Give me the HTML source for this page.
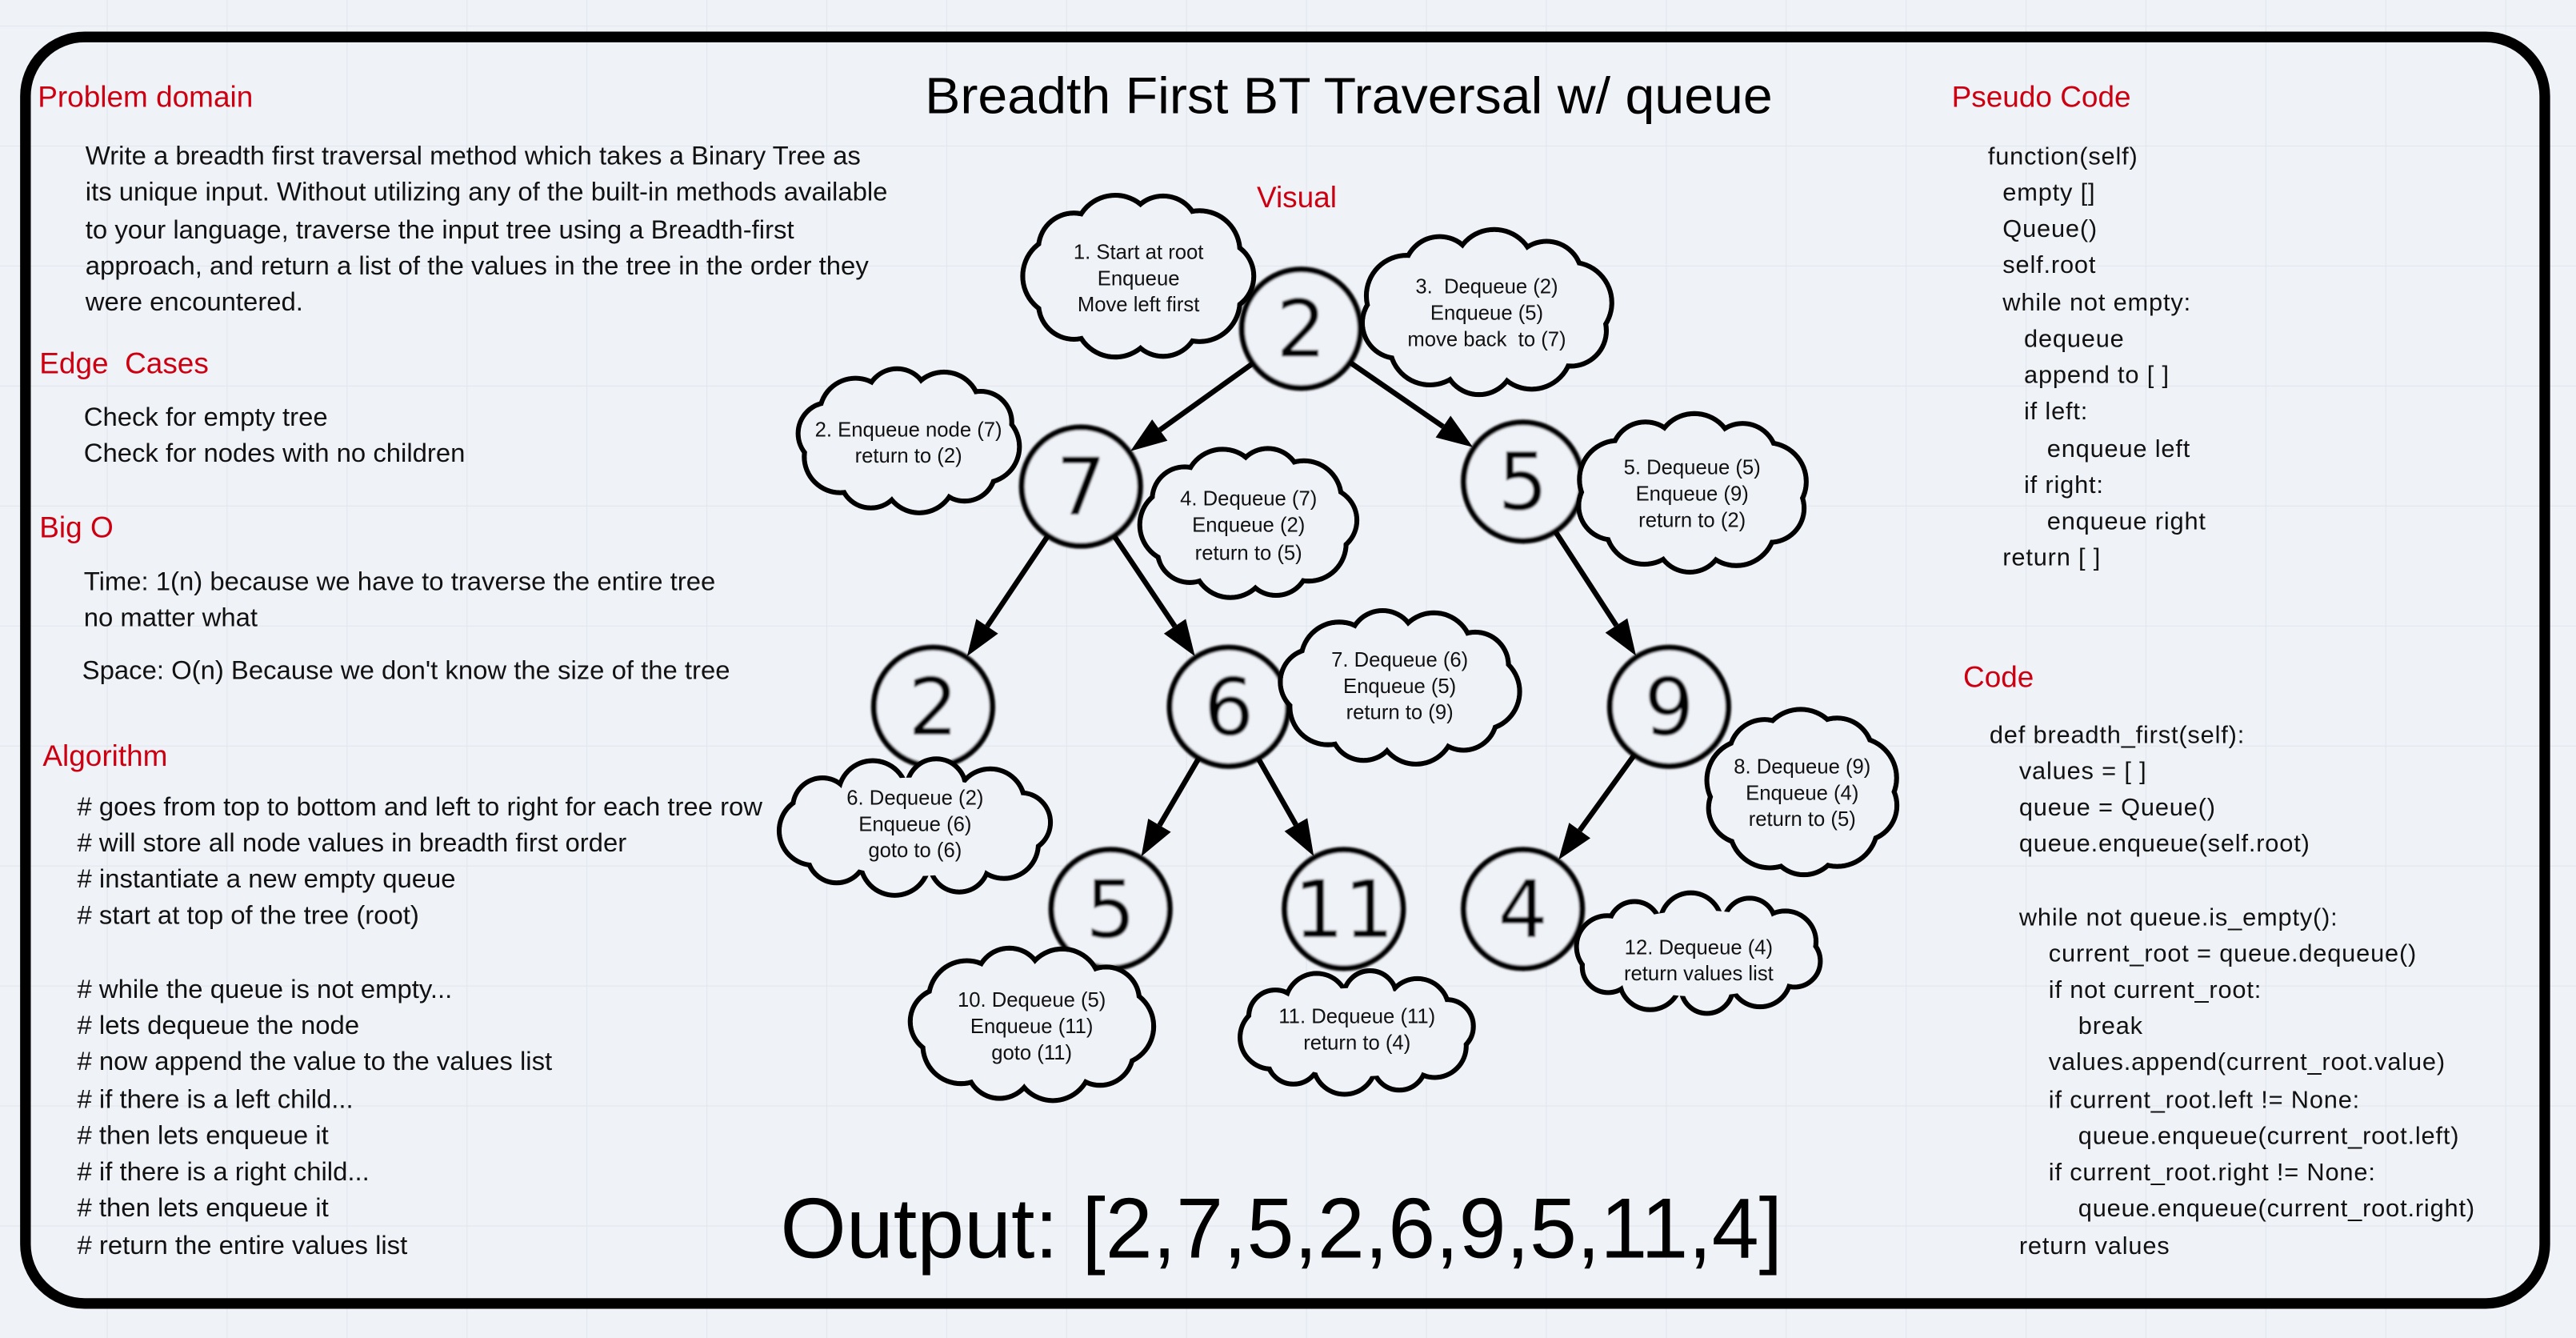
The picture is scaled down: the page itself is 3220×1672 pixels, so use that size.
<!DOCTYPE html>
<html><head><meta charset="utf-8">
<style>
html,body{margin:0;padding:0;background:#eff2f7;}
svg{display:block;}
text{font-family:"Liberation Sans",Arial,sans-serif;white-space:pre;}
</style></head>
<body>
<svg id="s" width="3220" height="1672" viewBox="0 0 1568 814" preserveAspectRatio="none" xmlns="http://www.w3.org/2000/svg">
<defs>
<pattern id="g" x="65" y="15.6" width="73" height="73" patternUnits="userSpaceOnUse">
<path d="M0 0H73M0 0V73" stroke="#e1e5ed" stroke-width="1" fill="none"/>
</pattern>
<filter id="bl"><feGaussianBlur stdDeviation="0.6"/></filter>
</defs>
<rect width="1568" height="814" fill="#eff2f7"/>
<rect width="1568" height="814" fill="url(#g)"/>
<rect x="15.5" y="22.5" width="1533.5" height="770.5" rx="36" ry="36" fill="none" stroke="#000" stroke-width="6.5"/>

<text x="563" y="69" font-size="31" textLength="516" lengthAdjust="spacingAndGlyphs">Breadth First BT Traversal w/ queue</text>
<text x="765" y="126" font-size="18" fill="#cc0011">Visual</text>

<g font-size="18" fill="#cc0011">
<text x="23" y="65">Problem domain</text>
<text x="24" y="227">Edge  Cases</text>
<text x="24" y="327">Big O</text>
<text x="26" y="466">Algorithm</text>
<text x="1188" y="65">Pseudo Code</text>
<text x="1195" y="418">Code</text>
</g>

<g font-size="16" fill="#111">
<text x="52" y="100">Write a breadth first traversal method which takes a Binary Tree as</text>
<text x="52" y="122">its unique input. Without utilizing any of the built-in methods available</text>
<text x="52" y="145">to your language, traverse the input tree using a Breadth-first</text>
<text x="52" y="167">approach, and return a list of the values in the tree in the order they</text>
<text x="52" y="189">were encountered.</text>
<text x="51" y="259">Check for empty tree</text>
<text x="51" y="281">Check for nodes with no children</text>
<text x="51" y="359">Time: 1(n) because we have to traverse the entire tree</text>
<text x="51" y="381">no matter what</text>
<text x="50" y="413">Space: O(n) Because we don't know the size of the tree</text>
<text x="47" y="496"># goes from top to bottom and left to right for each tree row</text>
<text x="47" y="518"># will store all node values in breadth first order</text>
<text x="47" y="540"># instantiate a new empty queue</text>
<text x="47" y="562"># start at top of the tree (root)</text>
<text x="47" y="607"># while the queue is not empty...</text>
<text x="47" y="629"># lets dequeue the node</text>
<text x="47" y="651"># now append the value to the values list</text>
<text x="47" y="674"># if there is a left child...</text>
<text x="47" y="696"># then lets enqueue it</text>
<text x="47" y="718"># if there is a right child...</text>
<text x="47" y="740"># then lets enqueue it</text>
<text x="47" y="763"># return the entire values list</text>
</g>

<g font-size="15" fill="#111" letter-spacing="0.4">
<text x="1210" y="100">function(self)</text>
<text x="1219" y="122">empty []</text>
<text x="1219" y="144">Queue()</text>
<text x="1219" y="166">self.root</text>
<text x="1219" y="189">while not empty:</text>
<text x="1232" y="211">dequeue</text>
<text x="1232" y="233">append to [ ]</text>
<text x="1232" y="255">if left:</text>
<text x="1246" y="278">enqueue left</text>
<text x="1232" y="300">if right:</text>
<text x="1246" y="322">enqueue right</text>
<text x="1219" y="344">return [ ]</text>
<text x="1211" y="452">def breadth_first(self):</text>
<text x="1229" y="474">values = [ ]</text>
<text x="1229" y="496">queue = Queue()</text>
<text x="1229" y="518">queue.enqueue(self.root)</text>
<text x="1229" y="563">while not queue.is_empty():</text>
<text x="1247" y="585">current_root = queue.dequeue()</text>
<text x="1247" y="607">if not current_root:</text>
<text x="1265" y="629">break</text>
<text x="1247" y="651">values.append(current_root.value)</text>
<text x="1247" y="674">if current_root.left != None:</text>
<text x="1265" y="696">queue.enqueue(current_root.left)</text>
<text x="1247" y="718">if current_root.right != None:</text>
<text x="1265" y="740">queue.enqueue(current_root.right)</text>
<text x="1229" y="763">return values</text>
</g>

<text x="475" y="765" font-size="52" textLength="610" lengthAdjust="spacingAndGlyphs">Output: [2,7,5,2,6,9,5,11,4]</text>

<g id="tree"></g>
<g id="clouds"></g>
</svg>
<script>
var NS="http://www.w3.org/2000/svg";
function el(p,t,a,txt){var e=document.createElementNS(NS,t);for(var k in a)e.setAttribute(k,a[k]);if(txt!=null)e.textContent=txt;p.appendChild(e);return e;}
var tree=document.getElementById('tree'),clouds=document.getElementById('clouds');
var N={a:[792,200,'2'],b:[658,296,'7'],c:[927,293,'5'],d:[568,430,'2'],e:[748,430,'6'],f:[1016,430,'9'],g:[676,553,'5'],h:[818,553,'11'],i:[927,553,'4']};
var R=36;
var E=[['a','b'],['a','c'],['b','d'],['b','e'],['c','f'],['e','g'],['e','h'],['f','i']];
E.forEach(function(p){var A=N[p[0]],B=N[p[1]];var dx=B[0]-A[0],dy=B[1]-A[1],L=Math.hypot(dx,dy),ux=dx/L,uy=dy/L;
var x1=A[0]+ux*R,y1=A[1]+uy*R,x2=B[0]-ux*(R+1),y2=B[1]-uy*(R+1);
var hx=x2-ux*22,hy=y2-uy*22;
el(tree,'line',{x1:x1,y1:y1,x2:hx,y2:hy,stroke:'#000','stroke-width':3.2});
el(tree,'polygon',{points:x2+','+y2+' '+(hx-uy*8)+','+(hy+ux*8)+' '+(hx+uy*8)+','+(hy-ux*8),fill:'#000'});});
for(var k in N){var n=N[k];var g=el(tree,'g',{filter:'url(#bl)'});
el(g,'circle',{cx:n[0],cy:n[1],r:R,fill:'#eff2f7',stroke:'#000','stroke-width':3.6});
el(g,'text',{x:n[0],y:n[1]+17,'text-anchor':'middle','font-size':48,style:'font-family:"DejaVu Sans",sans-serif'},n[2]);}
var C=[
[693,168,68,48,['1. Start at root','Enqueue','Move left first'],[153,169,185]],
[905,190,75,48,['3.  Dequeue (2)','Enqueue (5)','move back  to (7)'],[174,190,206]],
[553,268,66,42,['2. Enqueue node (7)','return to (2)'],[261,277]],
[760,318,64,44,['4. Dequeue (7)','Enqueue (2)','return to (5)'],[303,319,336]],
[1030,300,69,46,['5. Dequeue (5)','Enqueue (9)','return to (2)'],[284,300,316]],
[852,418,71,45,['7. Dequeue (6)','Enqueue (5)','return to (9)'],[401,417,433]],
[557,503,81,40,['6. Dequeue (2)','Enqueue (6)','goto to (6)'],[485,501,517]],
[1097,482,57,48,['8. Dequeue (9)','Enqueue (4)','return to (5)'],[466,482,498]],
[628,623,72,45,['10. Dequeue (5)','Enqueue (11)','goto (11)'],[608,624,640]],
[826,628,70,36,['11. Dequeue (11)','return to (4)'],[618,634]],
[1034,580,74,35,['12. Dequeue (4)','return values list'],[576,592]]
];
C.forEach(function(c,ci){var cx=c[0],cy=c[1],rx=c[2],ry=c[3];var n=10;var circ=[];
for(var i=0;i<n;i++){var t=i/n*Math.PI*2+ci*0.4;var r=Math.min(rx,ry)*0.45+(i%2?3:0);
circ.push([cx+Math.cos(t)*(rx-r*0.9),cy+Math.sin(t)*(ry-r*0.9),r]);}
var g=el(clouds,'g',{});
circ.forEach(function(q){el(g,'circle',{cx:q[0],cy:q[1],r:q[2],fill:'#eff2f7',stroke:'#000','stroke-width':3});});
circ.forEach(function(q){el(g,'circle',{cx:q[0],cy:q[1],r:q[2]-1.5,fill:'#eff2f7'});});
el(g,'ellipse',{cx:cx,cy:cy,rx:rx*0.85,ry:ry*0.75,fill:'#eff2f7'});
c[4].forEach(function(s,j){el(g,'text',{x:cx,y:c[5][j]+4.5,'text-anchor':'middle','font-size':12.5,fill:'#111'},s);});});
</script>
</body></html>
